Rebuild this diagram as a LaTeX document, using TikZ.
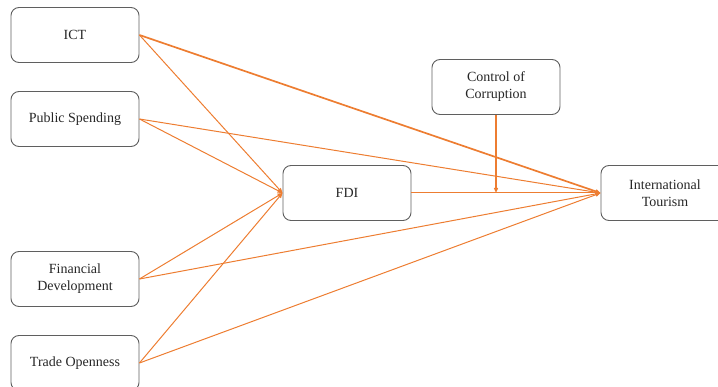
\documentclass[tikz,border=0pt]{standalone}
\usepackage{fontspec}
\setmainfont{Liberation Serif}
\usetikzlibrary{arrows.meta}
\definecolor{frameorange}{RGB}{237,125,49}
\definecolor{framegray}{RGB}{95,95,95}
\begin{document}
\begin{tikzpicture}[x=1pt,y=-1pt,
    box/.style={draw=framegray,line width=0.9pt,rounded corners=8pt,minimum width=128pt,minimum height=55pt,
        align=center,font=\fontsize{14}{17}\selectfont,text=black!85},
    link/.style={draw=frameorange,line width=1pt,-{Triangle[length=5pt,width=4pt]}},
    boldlink/.style={link,line width=1.7pt}]
    \useasboundingbox (0,0) rectangle (718,387);
    % inputs on the left
    \node[box] (ict) at (75,35) {ICT};
    \node[box] (pub) at (75,119) {Public Spending};
    \node[box] (fin) at (75,279) {Financial\\Development};
    \node[box] (trade) at (75,363) {Trade Openness};
    % mediator, moderator and outcome
    \node[box] (fdi) at (347,193) {FDI};
    \node[box] (corr) at (496,87) {Control of\\Corruption};
    \node[box] (tour) at (665,193) {International\\Tourism};
    \coordinate (mod) at (corr.south |- fdi.east);
    % paths to FDI
    \foreach \src in {ict,pub,fin,trade}
        \draw[link] (\src.east) -- (fdi.west);
    % paths to tourism
    \draw[boldlink] (ict.east) -- (tour.west);
    \foreach \src in {pub,fin,trade,fdi}
        \draw[link] (\src.east) -- (tour.west);
    \draw[boldlink] (corr.south) -- (mod);
\end{tikzpicture}
\end{document}
